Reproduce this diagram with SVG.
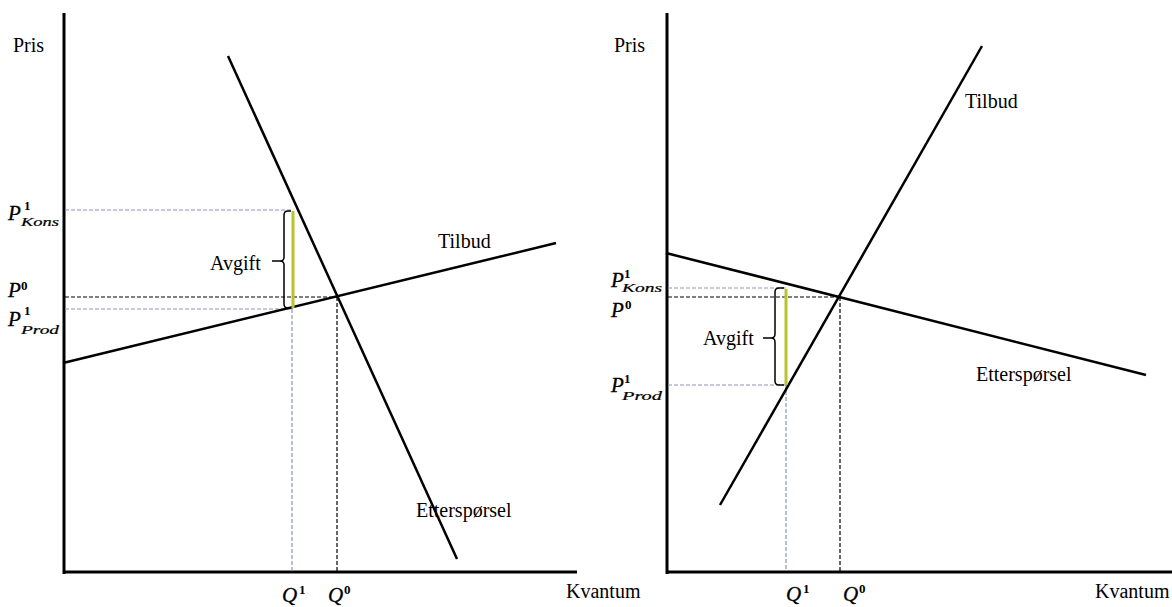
<svg xmlns="http://www.w3.org/2000/svg" width="1172" height="607" viewBox="0 0 1172 607">
<style>
.axis{stroke:#000;stroke-width:3;fill:none}
.curve{stroke:#000;stroke-width:2.5;fill:none}
.dk{stroke:#000;stroke-width:1.2;stroke-dasharray:4,2;fill:none}
.bl{stroke:#8a96b8;stroke-width:1.2;stroke-dasharray:4,2;fill:none}
.tax{stroke:#b8c42a;stroke-width:3;fill:none}
.brace{stroke:#000;stroke-width:1.5;fill:none}
.t{font-family:"Liberation Serif","Times New Roman",serif;font-size:20px;fill:#000}
.m{font-family:"Liberation Serif","Times New Roman",serif;font-style:italic;font-size:21px;fill:#000;stroke:#000;stroke-width:0.3}
.sup{font-family:"Liberation Serif","Times New Roman",serif;font-size:13px;font-weight:bold;fill:#000}
.sub{font-family:"Liberation Serif","Times New Roman",serif;font-style:italic;font-size:12px;fill:#000;stroke:#000;stroke-width:0.2}
</style>
<rect width="1172" height="607" fill="#fff"/>
<g id="left-chart">
  <g id="left-axes">
    <line class="axis" x1="64" y1="13" x2="64" y2="574"/>
    <line class="axis" x1="63" y1="572" x2="577" y2="572"/>
    <text class="t" x="13" y="52">Pris</text>
    <text class="t" x="566" y="598">Kvantum</text>
  </g>
  <g id="left-guides">
    <line class="bl" x1="65" y1="210" x2="292" y2="210"/>
    <line class="bl" x1="65" y1="309" x2="292" y2="309"/>
    <line class="bl" x1="292" y1="309" x2="292" y2="571"/>
    <line class="dk" x1="65" y1="297" x2="337" y2="297"/>
    <line class="dk" x1="337" y1="297" x2="337" y2="571"/>
  </g>
  <g id="left-demand">
    <line class="curve" x1="228" y1="56" x2="457" y2="559"/>
    <text class="t" x="416" y="517">Etterspørsel</text>
  </g>
  <g id="left-supply">
    <line class="curve" x1="63" y1="363" x2="556" y2="243"/>
    <text class="t" x="438" y="248">Tilbud</text>
  </g>
  <g id="left-tax">
    <line class="tax" x1="293" y1="211" x2="293" y2="308"/>
    <path class="brace" d="M291,211 H288 Q284,211 284,215 V257 Q284,261 280,261 H272 M280,261 Q284,261 284,265 V304 Q284,308 288,308 H291"/>
    <text class="t" x="210" y="270">Avgift</text>
  </g>
  <g id="left-labels">
    <text class="m" x="8" y="220">P</text><text class="sup" x="24" y="210">1</text><text class="sub" x="21" y="226" textLength="38" lengthAdjust="spacingAndGlyphs">Kons</text>
    <text class="m" x="8" y="297">P</text><text class="sup" x="21" y="290">0</text>
    <text class="m" x="8" y="326">P</text><text class="sup" x="24" y="315">1</text><text class="sub" x="21" y="334" textLength="38" lengthAdjust="spacingAndGlyphs">Prod</text>
    <text class="m" x="282" y="602">Q</text><text class="sup" x="299" y="594">1</text>
    <text class="m" x="328" y="602">Q</text><text class="sup" x="344" y="594">0</text>
  </g>
</g>
<g id="right-chart">
  <g id="right-axes">
    <line class="axis" x1="667" y1="13" x2="667" y2="574"/>
    <line class="axis" x1="666" y1="572" x2="1172" y2="572"/>
    <text class="t" x="614" y="52">Pris</text>
    <text class="t" x="1095" y="598">Kvantum</text>
  </g>
  <g id="right-guides">
    <line class="bl" x1="668" y1="288" x2="786" y2="288"/>
    <line class="bl" x1="668" y1="385" x2="786" y2="385"/>
    <line class="bl" x1="786" y1="385" x2="786" y2="571"/>
    <line class="dk" x1="668" y1="297" x2="840" y2="297"/>
    <line class="dk" x1="840" y1="297" x2="840" y2="571"/>
  </g>
  <g id="right-supply">
    <line class="curve" x1="720" y1="505" x2="982" y2="46"/>
    <text class="t" x="965" y="108">Tilbud</text>
  </g>
  <g id="right-demand">
    <line class="curve" x1="666" y1="253" x2="1146" y2="375"/>
    <text class="t" x="976" y="381">Etterspørsel</text>
  </g>
  <g id="right-tax">
    <line class="tax" x1="786" y1="289" x2="786" y2="385"/>
    <path class="brace" d="M784,288 H779 Q775,288 775,292 V334 Q775,338 771,338 H763 M771,338 Q775,338 775,342 V381 Q775,385 779,385 H784"/>
    <text class="t" x="703" y="345">Avgift</text>
  </g>
  <g id="right-labels">
    <text class="m" x="611" y="287">P</text><text class="sup" x="624" y="278">1</text><text class="sub" x="622" y="292" textLength="40" lengthAdjust="spacingAndGlyphs">Kons</text>
    <text class="m" x="611" y="317">P</text><text class="sup" x="625" y="309">0</text>
    <text class="m" x="611" y="392">P</text><text class="sup" x="624" y="383">1</text><text class="sub" x="622" y="400" textLength="40" lengthAdjust="spacingAndGlyphs">Prod</text>
    <text class="m" x="786" y="601">Q</text><text class="sup" x="803" y="593">1</text>
    <text class="m" x="843" y="601">Q</text><text class="sup" x="859" y="593">0</text>
  </g>
</g>
</svg>
